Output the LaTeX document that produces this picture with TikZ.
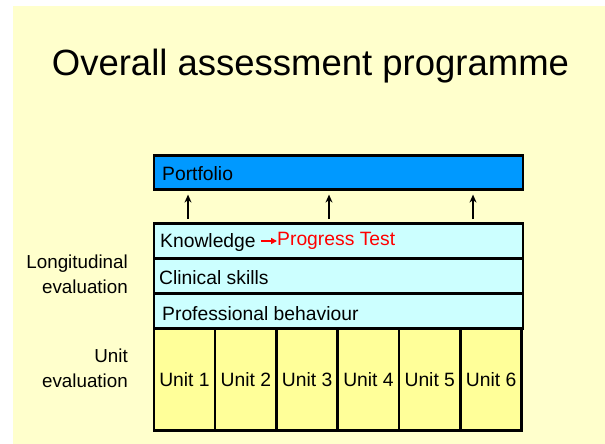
\documentclass[tikz,border=0pt]{standalone}
\usepackage{fontspec}
\setmainfont{Liberation Sans}
\usetikzlibrary{arrows.meta}
\definecolor{bgyellow}{HTML}{FFFFCC}
\definecolor{pfblue}{HTML}{0099FF}
\definecolor{lcyan}{HTML}{CCFFFF}
\definecolor{uyellow}{HTML}{FFFF99}
\tikzset{
  bar/.style={draw=black, line width=2.6pt, anchor=north west, inner sep=0pt, minimum width=369pt},
  lbl/.style={anchor=west, inner sep=0pt, font=\fontsize{19.3}{23}\selectfont},
  unitbox/.style={draw=black, line width=2.6pt, fill=uyellow, anchor=north west, inner sep=0pt,
    minimum width=61.33pt, minimum height=102pt, font=\fontsize{19.3}{23}\selectfont},
  side/.style={align=right, anchor=east, inner sep=0pt, font=\fontsize{18.8}{25}\selectfont},
  uparr/.style={-{Stealth[length=8pt,width=7pt]}, line width=2.4pt, shorten <=3pt, shorten >=4pt},
}
\begin{document}
\begin{tikzpicture}[x=1pt,y=-1pt]
\useasboundingbox (0,0) rectangle (605,444);
\fill[bgyellow] (13,6) rectangle (605,444);
\node[font=\fontsize{36.5}{40}\selectfont, inner sep=0pt] (title) at (310.5,66) {Overall assessment programme};
% portfolio
\node[bar, fill=pfblue, minimum height=34pt] (pf) at (152.5,154) {};
\node[lbl] (pft) at (162,174) {Portfolio};
% longitudinal bars
\node[bar, fill=lcyan, minimum height=35pt] (kn) at (152.5,222) {};
\node[bar, fill=lcyan, minimum height=35pt] (cs) at (152.5,257) {};
\node[bar, fill=lcyan, minimum height=35pt] (pb) at (152.5,292) {};
\node[lbl] (knt) at (160,243) {Knowledge};
\node[lbl, text=red] (ptt) at (277,241) {Progress Test};
\draw[red, line width=1.8pt, -{Triangle[length=6pt,width=6pt]}] (knt.east) ++(5,-2) coordinate (ra) -- (ptt.west);
\node[lbl] (cst) at (159,278) {Clinical skills};
\node[lbl] (pbt) at (162,314) {Professional behaviour};
% units
\foreach \i in {1,...,6} {
  \node[unitbox] (u\i) at ({152.5+61.33*(\i-1)},327) {Unit \i};
}
% arrows
\foreach \dx/\n in {35.5/a, 176.5/b, 320.5/c} {
  \draw[uparr] ([xshift=\dx pt]kn.north west) -- ([xshift=\dx pt]kn.north west |- pf.south);
}
% side labels
\node[side] (long) at (128,274.5) {Longitudinal\\evaluation};
\node[side] (unit) at (128,368.5) {Unit\\evaluation};
\end{tikzpicture}
\end{document}
